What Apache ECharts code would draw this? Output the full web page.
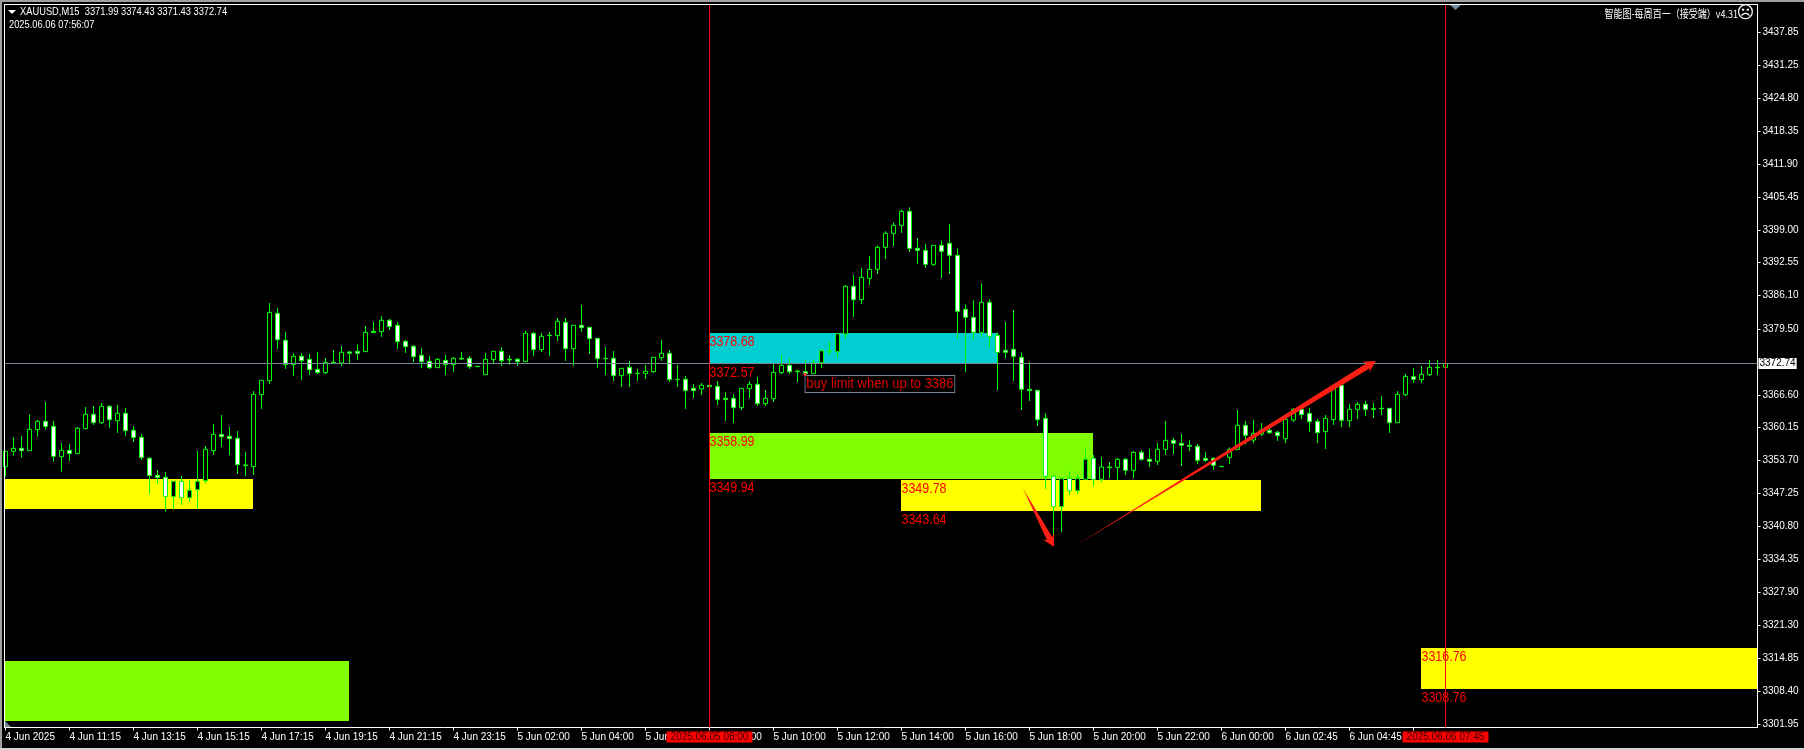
<!DOCTYPE html>
<html>
<head>
<meta charset="utf-8">
<style>html,body{margin:0;padding:0;background:#000;}#c{width:1804px;height:750px;}</style>
<script src="https://cdn.jsdelivr.net/npm/echarts@6/dist/echarts.min.js"></script>
</head>
<body>
<div id="c"></div>
<script>
const opens = [
3352.49,3355.50,3356.09,3355.63,3359.76,3361.39,3360.41,3354.46,3355.70,3355.05,
3359.95,3362.77,3361.13,3364.34,3361.53,3362.97,3359.63,3358.25,3354.13,3350.79,
3350.40,3346.60,3349.61,3346.40,3347.98,3349.74,3355.63,3358.84,3358.45,3358.06,
3352.82,3352.49,3366.63,3369.38,3382.60,3377.30,3372.52,3374.16,3373.57,3371.61,
3370.95,3372.98,3372.85,3375.01,3375.14,3375.08,3379.07,3379.00,3381.23,3380.25,
3377.11,3376.12,3374.36,3373.18,3371.93,3373.37,3372.52,3373.77,3373.77,3372.20,
3370.56,3373.51,3375.14,3373.57,3373.57,3373.11,3378.68,3375.47,3378.28,3378.22,
3380.84,3375.66,3380.25,3379.85,3377.69,3373.77,3373.77,3370.36,3372.00,3370.82,
3370.76,3371.15,3373.90,3374.75,3369.64,3369.64,3367.88,3367.74,3368.46,3368.27,
3365.91,3365.91,3364.07,3367.81,3368.66,3364.86,3365.84,3370.95,3372.39,3371.27,
3371.14,3370.75,3372.91,3375.20,3375.07,3378.54,3387.90,3385.28,3389.47,3391.24,
3395.56,3398.31,3399.88,3402.63,3395.36,3394.97,3392.22,3395.95,3396.35,3393.99,
3383.39,3381.81,3378.87,3384.76,3378.28,3375.33,3375.53,3373.96,3367.67,3367.48,
3361.98,3350.59,3344.63,3350.19,3347.77,3350.00,3354.12,3350.00,3352.42,3352.35,
3353.93,3351.76,3355.30,3353.93,3353.53,3355.89,3357.66,3357.07,3356.67,3356.48,
3354.12,3354.12,3352.55,3354.32,3355.89,3360.60,3357.72,3358.90,3359.62,3359.23,
3357.98,3361.65,3363.74,3362.96,3361.39,3359.36,3361.72,3368.46,3361.52,3363.74,
3364.73,3363.88,3363.94,3363.94,3361.13,3366.62,3370.16,3369.57,3370.55,3371.99,
3371.99];
const closes = [
3355.50,3356.09,3355.63,3359.82,3361.39,3360.35,3354.52,3355.70,3355.05,3360.02,
3362.77,3361.13,3364.34,3361.72,3362.97,3359.56,3358.19,3354.26,3350.72,3350.33,
3346.60,3349.61,3346.40,3347.84,3349.61,3355.90,3358.84,3358.38,3357.99,3352.88,
3352.69,3366.70,3369.45,3382.80,3377.43,3372.52,3374.16,3373.31,3371.54,3370.95,
3372.98,3372.85,3374.95,3374.75,3374.75,3378.87,3378.81,3381.23,3379.99,3377.04,
3376.06,3374.09,3373.11,3371.93,3373.57,3372.52,3373.77,3373.64,3372.13,3372.13,
3373.57,3375.14,3373.31,3373.44,3373.11,3378.68,3375.47,3378.09,3378.22,3381.03,
3375.66,3380.25,3379.79,3377.63,3373.70,3373.70,3370.36,3371.80,3370.76,3370.76,
3371.21,3373.96,3374.75,3369.58,3369.58,3367.42,3367.42,3368.46,3368.20,3365.65,
3365.65,3364.07,3367.87,3368.66,3364.86,3365.91,3371.01,3372.39,3371.14,3371.14,
3370.75,3372.91,3375.27,3375.07,3378.61,3387.90,3385.28,3389.67,3391.24,3395.56,
3398.31,3399.88,3402.63,3395.36,3394.97,3392.22,3395.95,3394.78,3393.99,3382.99,
3381.81,3378.87,3384.76,3378.08,3374.94,3374.94,3374.16,3367.67,3367.41,3361.72,
3350.59,3344.63,3350.19,3347.77,3350.19,3353.93,3350.00,3352.42,3352.29,3353.93,
3351.76,3355.30,3353.93,3353.53,3355.89,3357.66,3357.07,3356.67,3356.48,3353.73,
3353.73,3352.75,3352.49,3355.89,3360.60,3358.64,3359.03,3359.69,3359.16,3358.57,
3361.78,3363.74,3362.70,3361.32,3359.16,3361.98,3368.26,3361.58,3363.74,3364.73,
3363.74,3363.74,3363.88,3361.13,3366.69,3370.22,3369.64,3370.62,3371.99,3371.93,
3372.74];
const highs = [
3355.50,3358.25,3358.51,3362.77,3361.66,3365.19,3361.46,3357.14,3356.94,3360.28,
3364.21,3364.41,3364.99,3364.54,3364.60,3364.01,3360.48,3358.91,3354.39,3351.84,
3351.44,3349.61,3350.66,3349.87,3355.57,3356.55,3360.87,3362.64,3360.28,3359.50,
3355.37,3367.35,3369.45,3384.63,3383.65,3378.94,3374.75,3374.75,3374.62,3375.01,
3373.83,3375.40,3376.19,3375.21,3376.52,3380.12,3380.90,3382.08,3381.49,3380.90,
3377.37,3376.39,3375.80,3374.22,3373.83,3374.42,3374.03,3375.01,3374.22,3372.20,
3374.81,3375.14,3375.99,3374.42,3373.83,3379.13,3378.94,3378.74,3378.94,3381.69,
3381.69,3380.25,3384.24,3379.92,3377.69,3375.99,3375.21,3371.80,3373.24,3371.67,
3372.46,3373.96,3377.37,3375.40,3372.46,3370.30,3368.73,3368.92,3368.46,3369.32,
3367.15,3366.76,3367.94,3369.31,3370.10,3367.54,3372.78,3374.42,3373.76,3371.47,
3373.44,3373.44,3375.66,3376.97,3378.74,3388.10,3390.13,3391.50,3393.86,3395.95,
3398.70,3400.47,3403.02,3403.42,3397.39,3396.22,3395.95,3396.94,3400.14,3395.36,
3384.37,3385.15,3388.49,3385.35,3378.87,3380.90,3383.25,3374.94,3373.04,3367.48,
3362.96,3350.85,3350.19,3351.63,3350.98,3356.35,3354.78,3354.38,3353.40,3354.19,
3354.19,3355.56,3355.76,3355.95,3357.13,3361.45,3358.11,3358.90,3357.72,3356.94,
3355.36,3354.32,3352.55,3356.28,3363.61,3361.45,3361.65,3361.06,3360.08,3359.55,
3361.85,3363.94,3364.33,3364.01,3361.85,3362.63,3368.52,3368.52,3364.79,3365.18,
3365.38,3364.99,3366.36,3363.94,3367.34,3370.68,3371.86,3372.25,3373.43,3373.43,
3374.43];
const lows = [
3350.53,3354.65,3354.26,3355.63,3358.38,3359.76,3353.47,3351.51,3353.60,3355.05,
3359.95,3360.67,3360.87,3360.09,3359.10,3358.51,3357.34,3353.80,3347.19,3349.15,
3343.66,3344.05,3344.96,3345.55,3344.24,3349.15,3354.78,3356.35,3354.78,3351.05,
3350.66,3350.86,3363.82,3368.73,3375.60,3371.67,3370.30,3369.51,3370.49,3370.69,
3370.69,3372.85,3372.26,3372.78,3373.44,3375.08,3378.81,3377.96,3379.33,3375.60,
3374.81,3373.05,3371.87,3371.67,3371.93,3370.49,3371.08,3373.44,3371.67,3372.13,
3370.56,3372.65,3372.26,3372.46,3372.26,3373.11,3374.22,3375.01,3374.22,3377.17,
3373.24,3372.26,3378.94,3374.62,3371.87,3370.49,3369.32,3368.14,3368.14,3369.32,
3369.71,3370.89,3373.24,3369.12,3368.14,3363.82,3365.98,3366.57,3368.20,3364.60,
3361.46,3361.06,3363.62,3365.97,3364.40,3364.40,3365.19,3370.69,3370.69,3369.11,
3370.42,3370.75,3371.86,3374.42,3373.89,3377.56,3381.88,3384.43,3388.16,3390.32,
3393.27,3395.82,3398.38,3394.64,3392.29,3391.50,3391.89,3389.54,3390.32,3377.56,
3371.08,3377.49,3377.89,3375.92,3367.54,3373.83,3369.31,3363.62,3365.38,3360.47,
3348.10,3339.07,3339.65,3346.92,3347.12,3350.00,3348.69,3349.47,3350.26,3349.87,
3350.85,3350.26,3353.66,3352.42,3352.81,3354.78,3354.97,3352.62,3355.56,3353.01,
3353.40,3351.83,3352.49,3353.01,3355.76,3356.87,3357.07,3358.51,3358.90,3357.53,
3357.13,3361.26,3361.85,3359.29,3357.13,3355.95,3360.67,3360.27,3360.27,3361.85,
3362.43,3362.04,3362.63,3359.10,3361.13,3366.36,3368.92,3368.92,3370.29,3370.49,
3371.43];

const barCount = 220;
const tickIndexes = [0,8,16,24,32,40,48,56,64,72,80,88,96,104,112,120,128,136,144,152,160,168,176];
const tickLabels = ["4 Jun 2025","4 Jun 11:15","4 Jun 13:15","4 Jun 15:15","4 Jun 17:15","4 Jun 19:15","4 Jun 21:15","4 Jun 23:15",
  "5 Jun 02:00","5 Jun 04:00","5 Jun 06:00","5 Jun 08:00","5 Jun 10:00","5 Jun 12:00","5 Jun 14:00","5 Jun 16:00","5 Jun 18:00","5 Jun 20:00","5 Jun 22:00",
  "6 Jun 00:00","6 Jun 02:45","6 Jun 04:45","6 Jun 06:45"];
const priceTicks = [3437.85,3431.25,3424.80,3418.35,3411.90,3405.45,3399.00,3392.55,3386.10,3379.50,3366.60,3360.15,3353.70,3347.25,3340.80,3334.35,3327.90,3321.30,3314.85,3308.40,3301.95];

const zoneStarts  = [0, 0, 88, 88, 112, 177];
const zoneEnds    = [31, 43, 124, 136, 157, 219];
const zoneTops    = [3350.06, 3314.30, 3378.68, 3358.99, 3349.78, 3316.76];
const zoneBottoms = [3344.17, 3302.50, 3372.57, 3349.94, 3343.64, 3308.76];
const zoneColors  = ["#ffff00", "#80ff00", "#00ced1", "#80ff00", "#ffff00", "#ffff00"];

const noteIndexes = [88, 88, 88, 88, 112, 112, 177, 177];
const notePrices  = [3378.68, 3372.57, 3358.99, 3349.94, 3349.78, 3343.64, 3316.76, 3308.76];

const lastPrice = 3372.74;
const markIndexes = [88, 180];
const markLabels = ["2025.06.05 08:00", "2025.06.06 07:45"];

const arrowFromX = [127.17, 133.71];
const arrowFromY = [3348.24, 3336.91];
const arrowToX   = [131.05, 171.30];
const arrowToY   = [3336.77, 3373.24];

const comment = "buy limit when up to 3386";
const commentIndex = 100;
const commentPrice = 3370.3;

const FONT = '"Liberation Sans",sans-serif';
const categories = Array.from({length: barCount}, (_, i) => {
  const k = tickIndexes.indexOf(i);
  return k >= 0 ? tickLabels[k] : String(i);
});
const isTick = i => tickIndexes.indexOf(i) >= 0;

const chart = echarts.init(document.getElementById('c'), null, {renderer: 'canvas'});
chart.setOption({
  animation: false,
  backgroundColor: '#000',
  grid: {left: 5.5, width: 1752, top: 4.5, height: 723, containLabel: false},
  xAxis: {
    type: 'category', data: categories, boundaryGap: false,
    axisLine: {lineStyle: {color: '#fff', width: 1}},
    axisTick: {show: true, length: 3, interval: isTick, lineStyle: {color: '#fff'}},
    axisLabel: {color: '#fff', fontFamily: FONT, fontSize: 10, align: 'left', margin: 5, interval: isTick, hideOverlap: false},
    splitLine: {show: false}
  },
  yAxis: {
    type: 'value', position: 'right', min: 3301.26, max: 3443.25, scale: true,
    axisLine: {show: true, lineStyle: {color: '#fff', width: 1}},
    axisTick: {show: true, length: 3, customValues: priceTicks, lineStyle: {color: '#fff'}},
    axisLabel: {color: '#fff', fontFamily: FONT, fontSize: 10, margin: 5, customValues: priceTicks, formatter: v => v.toFixed(2)},
    splitLine: {show: false}
  },
  series: [
    {
      type: 'custom', z: 1, silent: true, clip: true,
      data: zoneStarts.map((s, i) => [s, zoneEnds[i], zoneTops[i], zoneBottoms[i]]),
      encode: {x: [0, 1], y: [2, 3]},
      renderItem(params, api) {
        const a = api.coord([api.value(0), api.value(2)]);
        const b = api.coord([api.value(1), api.value(3)]);
        const x0 = Math.floor(a[0]), x1 = Math.floor(b[0]), y0 = Math.floor(a[1]), y1 = Math.floor(b[1]);
        return {type: 'rect', shape: {x: x0, y: y0, width: x1 - x0, height: y1 - y0},
          style: {fill: zoneColors[params.dataIndex]}};
      }
    },
    {
      type: 'candlestick', z: 3, barWidth: 4, clip: true,
      data: opens.map((o, i) => [o, closes[i], lows[i], highs[i]]),
      itemStyle: {color: '#000', color0: '#fff', borderColor: '#00ff00', borderColor0: '#00ff00', borderWidth: 1},
      markLine: {
        silent: true, symbol: 'none', z: 5, animation: false,
        data: [
          {xAxis: markIndexes[0], lineStyle: {color: '#ff0000', width: 1, type: 'solid'},
           label: {position: 'start', distance: 4, formatter: markLabels[0], backgroundColor: '#ff0000', color: '#300', fontFamily: FONT, fontSize: 10, padding: [0, 4], lineHeight: 11}},
          {xAxis: markIndexes[1], lineStyle: {color: '#ff0000', width: 1, type: 'solid'},
           label: {position: 'start', distance: 4, formatter: markLabels[1], backgroundColor: '#ff0000', color: '#300', fontFamily: FONT, fontSize: 10, padding: [0, 4], lineHeight: 11}},
          {yAxis: lastPrice, lineStyle: {color: '#778899', width: 1, type: 'solid'},
           label: {position: 'end', distance: 1, formatter: lastPrice.toFixed(2), backgroundColor: '#fff', color: '#000', fontFamily: FONT, fontSize: 10, padding: [0, 1], lineHeight: 11}}
        ]
      }
    },
    {
      type: 'custom', z: 6, silent: true, clip: false,
      data: noteIndexes.map((x, i) => [x, notePrices[i]]),
      encode: {x: 0, y: 1},
      renderItem(params, api) {
        const p = api.coord([api.value(0), api.value(1)]);
        return {type: 'text', x: p[0], y: p[1] + 1, scaleX: 0.83, style: {x: 0, y: 0, text: api.value(1).toFixed(2), fill: '#ff0000',
          font: '15px ' + FONT, textAlign: 'left', textVerticalAlign: 'top'}};
      }
    },
    {
      type: 'custom', z: 6, silent: true, clip: false,
      data: [[commentIndex, commentPrice]],
      encode: {x: 0, y: 1},
      renderItem(params, api) {
        const p = api.coord([api.value(0), api.value(1)]);
        return {type: 'group', children: [
          {type: 'text', x: p[0], y: p[1], scaleX: 0.865, style: {x: 0, y: 0, text: comment, fill: '#e00000', font: '15px ' + FONT, textAlign: 'left', textVerticalAlign: 'top',
            backgroundColor: '#000', borderColor: '#778899', borderWidth: 1, padding: [0, 1, 0, 1], lineHeight: 16}},
          {type: 'rect', shape: {x: p[0] - 1.5, y: p[1] - 2.5, width: 2, height: 2}, style: {fill: '#fff', stroke: '#ff0000', lineWidth: 1}}
        ]};
      }
    },
    {
      type: 'custom', z: 7, silent: true, clip: false,
      data: arrowFromX.map((x, i) => [Math.round(x), arrowFromY[i], Math.round(arrowToX[i]), arrowToY[i]]),
      encode: {x: [0, 2], y: [1, 3]},
      renderItem(params, api) {
        const i = params.dataIndex;
        const place = (v, price) => {
          const f = Math.floor(v), p0 = api.coord([f, price]), p1 = api.coord([f + 1, price]);
          return [p0[0] + (p1[0] - p0[0]) * (v - f), p0[1]];
        };
        const a = place(arrowFromX[i], arrowFromY[i]);
        const b = place(arrowToX[i], arrowToY[i]);
        const dx = b[0] - a[0], dy = b[1] - a[1], L = Math.hypot(dx, dy);
        const ux = dx / L, uy = dy / L, nx = -uy, ny = ux;
        const at = (along, off) => [b[0] - ux * along + nx * off, b[1] - uy * along + ny * off];
        return {type: 'polygon', shape: {points: [a, at(9, 3), at(12, 6.5), b, at(12, -6.5), at(9, -3)]}, style: {fill: '#ff1e14'}};
      }
    }
  ],
  graphic: [
    {type: 'rect', silent: true, z: 20, shape: {x: 0, y: 0, width: 1804, height: 2}, style: {fill: '#a0a0a0'}},
    {type: 'rect', silent: true, z: 20, shape: {x: 0, y: 0, width: 2, height: 750}, style: {fill: '#a0a0a0'}},
    {type: 'rect', silent: true, z: 20, shape: {x: 0, y: 748, width: 1804, height: 2}, style: {fill: '#d0d0d0'}},
    {type: 'rect', silent: true, z: 20, shape: {x: 4, y: 4, width: 1, height: 724}, style: {fill: '#fff'}},
    {type: 'rect', silent: true, z: 20, shape: {x: 4, y: 4, width: 1754, height: 1}, style: {fill: '#fff'}},
    {type: 'polygon', silent: true, z: 20, shape: {points: [[8, 10], [16, 10], [12, 14]]}, style: {fill: '#fff'}},
    {type: 'polygon', silent: true, z: 20, shape: {points: [[1450, 5], [1461, 5], [1455.5, 10]]}, style: {fill: '#778899'}},
    {type: 'polygon', silent: true, z: 20, shape: {points: [[5, 721], [5, 727], [11, 727]]}, style: {fill: '#778899'}},
    {type: 'text', silent: true, z: 20, x: 20, y: 12, scaleX: 0.81, style: {x: 0, y: 0, text: 'XAUUSD,M15  3371.99 3374.43 3371.43 3372.74', fill: '#fff', font: '11.5px ' + FONT, textVerticalAlign: 'middle'}},
    {type: 'text', silent: true, z: 20, x: 9, y: 25, scaleX: 0.81, style: {x: 0, y: 0, text: '2025.06.06 07:56:07', fill: '#fff', font: '11.5px ' + FONT, textVerticalAlign: 'middle'}},
    {type: 'text', silent: true, z: 20, x: 1738, y: 14, scaleX: 0.82, style: {x: 0, y: 0, text: '智能图-每周百一（接受端）v4.31', fill: '#fff', font: '11px "Noto Sans CJK SC",' + FONT, textAlign: 'right', textVerticalAlign: 'middle'}},
    {type: 'text', silent: true, z: 20, style: {x: 1745.5, y: 14, text: '☹', fill: '#fff', font: '17px "DejaVu Sans"', textAlign: 'center', textVerticalAlign: 'middle'}}
  ]
});
</script>
</body>
</html>
